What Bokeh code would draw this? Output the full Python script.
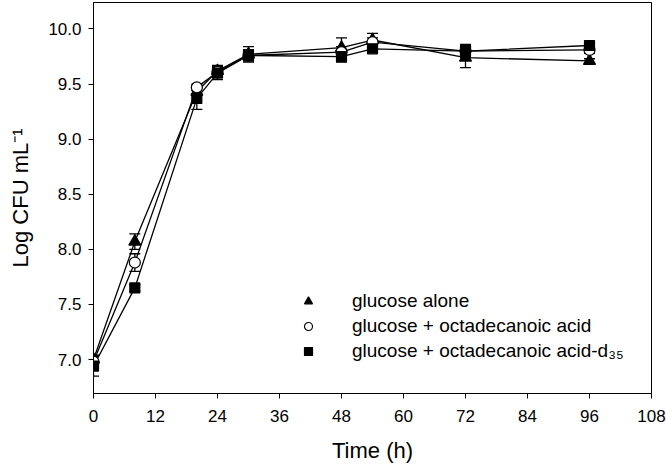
from bokeh.plotting import figure
from bokeh.models import ColumnDataSource, Whisker, Legend, LegendItem, FixedTicker, Range1d, TeeHead
from bokeh.embed import file_html
from bokeh.resources import INLINE

# ---- data ----
time_h = [0, 8, 20, 24, 30, 48, 54, 72, 96]

alone_mean = [7.00, 8.07, 9.43, 9.62, 9.77, 9.83, 9.90, 9.74, 9.71]
alone_err = [0.04, 0.07, 0.03, 0.05, 0.07, 0.09, 0.06, 0.09, 0.02]

octa_mean = [6.98, 7.88, 9.47, 9.61, 9.76, 9.79, 9.88, 9.80, 9.81]
octa_err = [0.05, 0.08, 0.03, 0.04, 0.05, 0.05, 0.04, 0.05, 0.03]

d35_mean = [6.94, 7.65, 9.37, 9.60, 9.76, 9.75, 9.82, 9.80, 9.85]
d35_err = [0.09, 0.03, 0.10, 0.06, 0.05, 0.05, 0.03, 0.06, 0.03]

labels = ["glucose alone", "glucose + octadecanoic acid", "glucose + octadecanoic acid-d\u2083\u2085"]
x_ticks = [0, 12, 24, 36, 48, 60, 72, 84, 96, 108]
y_ticks = [7.0, 7.5, 8.0, 8.5, 9.0, 9.5, 10.0]

FONT = "Liberation Sans"

p = figure(width=666, height=469, output_backend="svg", toolbar_location=None,
           x_range=Range1d(0, 108), y_range=Range1d(6.6914, 10.2405),
           min_border_left=93, min_border_right=15, min_border_top=2, min_border_bottom=76)
p.grid.visible = False
p.outline_line_color = "black"
p.outline_line_width = 1
p.background_fill_color = "white"
p.border_fill_color = "white"

p.xaxis.ticker = FixedTicker(ticks=x_ticks)
p.yaxis.ticker = FixedTicker(ticks=y_ticks)
p.yaxis.major_label_overrides = {v: f"{v:.1f}" for v in y_ticks}
for ax in (p.xaxis, p.yaxis):
    ax.minor_tick_line_color = None
    ax.major_tick_in = 0
    ax.major_tick_out = 5
    ax.axis_line_color = "black"
    ax.major_tick_line_color = "black"
    ax.major_label_text_font = FONT
    ax.major_label_text_font_size = "17px"
    ax.major_label_text_color = "black"
    ax.axis_label_text_font = FONT
    ax.axis_label_text_font_size = "22px"
    ax.axis_label_text_font_style = "normal"
    ax.axis_label_text_color = "black"
p.xaxis.axis_label = "Time (h)"
p.yaxis.axis_label = "Log CFU mL\u207B\u00B9"
p.xaxis.major_label_standoff = 11
p.xaxis.axis_label_standoff = 13
p.yaxis.major_label_standoff = 7
p.yaxis.axis_label_standoff = 12

series = [
    (alone_mean, alone_err, "triangle", 12, "black"),
    (octa_mean, octa_err, "circle", 11, "white"),
    (d35_mean, d35_err, "square", 10, "black"),
]

renderers = []
for mean, err, marker, size, fill in series:
    src = ColumnDataSource(dict(
        t=time_h, m=mean,
        lo=[a - b for a, b in zip(mean, err)],
        hi=[a + b for a, b in zip(mean, err)],
    ))
    p.line("t", "m", source=src, line_color="black", line_width=1.3)
    w = Whisker(base="t", lower="lo", upper="hi", source=src, line_color="black", line_width=1.3,
                upper_head=TeeHead(size=11, line_color="black", line_width=1.3),
                lower_head=TeeHead(size=11, line_color="black", line_width=1.3))
    p.add_layout(w)
    renderers.append((src, marker, size, fill))

legend_items = []
for (src, marker, size, fill), lab in zip(renderers, labels):
    r = p.scatter("t", "m", source=src, marker=marker, size=size, fill_color=fill,
                  line_color="black", line_width=1.2)
    legend_items.append(LegendItem(label=lab, renderers=[r]))

legend = Legend(items=legend_items, location=(195, 21), border_line_alpha=0,
                background_fill_alpha=0, label_text_font=FONT, label_text_font_size="19px",
                label_text_color="black", glyph_width=20, glyph_height=20, label_height=20,
                label_standoff=34, spacing=3, padding=10, margin=0)
p.add_layout(legend, "center")

open("out.html", "w").write(file_html(p, INLINE))
